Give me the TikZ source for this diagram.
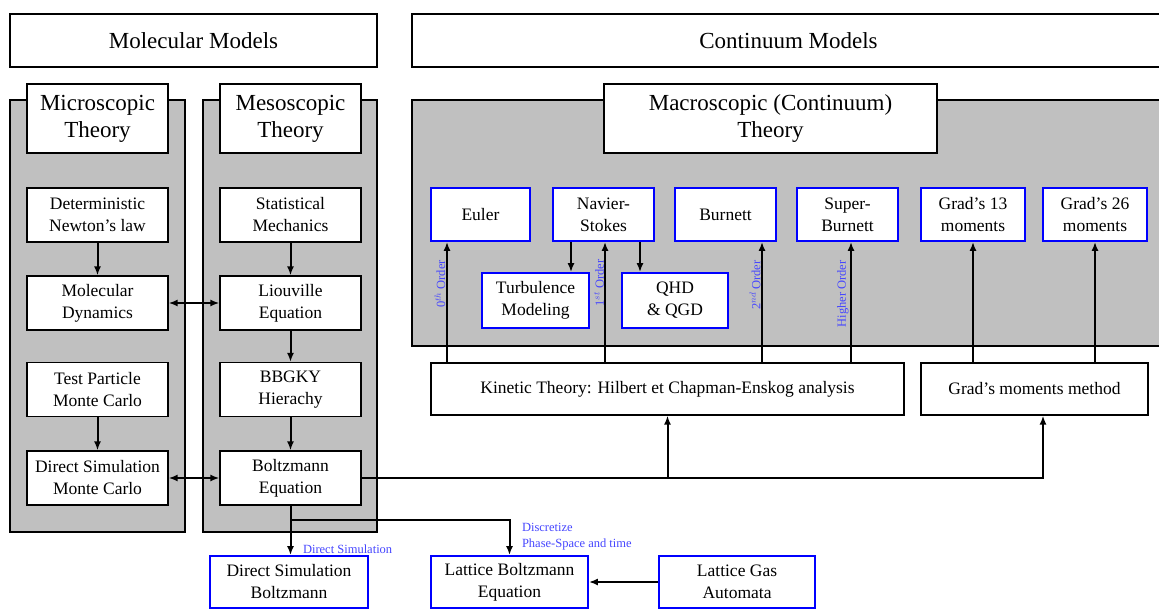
\documentclass[tikz,border=0pt]{standalone}
\usepackage{fontspec}
\setmainfont{Liberation Serif}
\usepackage{tikz}
\usetikzlibrary{arrows.meta}
\definecolor{panelgray}{RGB}{192,192,192}
\definecolor{labelblue}{RGB}{70,70,255}

\begin{document}
\begin{tikzpicture}[x=1pt, y=-1pt, >={Latex[length=9pt, width=7pt]}, line width=2pt]
      \useasboundingbox (0,0) rectangle (1159,608);

      % shaded panels
      \draw[fill=panelgray, line width=1.3pt] (10,100) rectangle (185,532);
      \draw[fill=panelgray, line width=1.3pt] (203,100) rectangle (377,532);
      \draw[fill=panelgray, line width=1.3pt] (412,100) rectangle (1165,346);

      {\tikzstyle{every node}=[draw, fill=white, line width=1.2pt, align=center,
          font=\fontsize{23}{27}\selectfont]
        \node[minimum width=367, minimum height=53] (molecular) at (193.5,40.5) {Molecular Models};
        \node[minimum width=753, minimum height=53] (continuum) at (788.5,40.5) {Continuum Models};
        \node[minimum width=141, minimum height=69] (micro) at (97.5,118.5) {Microscopic\\Theory};
        \node[minimum width=141, minimum height=69] (meso) at (290.5,118.5) {Mesoscopic\\Theory};
        \node[minimum width=333, minimum height=69] (macro) at (770.5,118.5) {Macroscopic (Continuum)\\Theory};
      }

      {\tikzstyle{every node}=[draw, fill=white, line width=1.2pt, align=center,
          minimum width=141, minimum height=54, inner sep=1pt,
          font=\fontsize{17.5}{22}\selectfont]
        \foreach \name/\y/\txt in {newton/215/{Deterministic\\Newton's law},
            md/303/{Molecular\\Dynamics},
            tpmc/389.5/{Test Particle\\Monte Carlo},
            dsmc/478/{Direct Simulation\\Monte Carlo}}
        {
          \node (\name) at (97.5,\y) {\txt};
        }
        \foreach \name/\y/\txt in {statmech/215/{Statistical\\Mechanics},
            liouville/303/{Liouville\\Equation},
            bbgky/389.5/{BBGKY\\Hierachy},
            boltz/478/{Boltzmann\\Equation}}
        {
          \node (\name) at (290.5,\y) {\txt};
        }
        \node[minimum width=473, minimum height=52] (kinetic) at (667.5,389)
          {Kinetic Theory: Hilbert et Chapman-Enskog analysis};
        \node[minimum width=227, minimum height=52] (gradmm) at (1034.5,389)
          {Grad's moments method};
      }

      {\tikzstyle{every node}=[draw=blue, fill=white, line width=1.8pt, align=center,
          minimum height=53, inner sep=1pt, font=\fontsize{17.5}{22}\selectfont]
        \foreach \name/\x/\w/\txt in {euler/480.5/99/{Euler},
            navier/603.5/101/{Navier-\\Stokes},
            burnett/725.5/101/{Burnett},
            superb/847.5/101/{Super-\\Burnett},
            grad13/973/104/{Grad's 13\\moments},
            grad26/1095/104/{Grad's 26\\moments}}
        {
          \node[minimum width=\w] (\name) at (\x,214.5) {\txt};
        }
        \node[minimum width=107, minimum height=55] (turb) at (535.5,300.5) {Turbulence\\Modeling};
        \node[minimum width=106, minimum height=55] (qhd) at (675,300.5) {QHD\\\& QGD};
        \node[minimum width=158, minimum height=52] (dsb) at (289,582) {Direct Simulation\\Boltzmann};
        \node[minimum width=157, minimum height=52] (lbe) at (509.5,582) {Lattice Boltzmann\\Equation};
        \node[minimum width=156, minimum height=52] (lga) at (737,582) {Lattice Gas\\Automata};
      }

      {\tikzstyle{every node}=[text=labelblue, inner sep=0pt, font=\fontsize{12.5}{16}\selectfont]
        \node[rotate=90] (ord0) at (440,284) {0$^{th}$ Order};
        \node[rotate=90] (ord1) at (599,283) {1$^{st}$ Order};
        \node[rotate=90] (ord2) at (755,285) {2$^{nd}$ Order};
        \node[rotate=90] (ordh) at (843,294) {Higher Order};
        \node[anchor=west] (dslabel) at (302,549.5) {Direct Simulation};
        \node[anchor=west, align=left] (disclabel) at (521,537) {Discretize\\Phase-Space and time};
      }

      \foreach \a/\b in {newton/md, tpmc/dsmc, statmech/liouville,
          liouville/bbgky, bbgky/boltz, lga/lbe}
      {
        \draw[->] (\a) -- (\b);
      }

      \draw[<->] (md) -- (liouville);
      \draw[<->] (dsmc) -- (boltz);

      \draw[->] (navier.south -| 571,0) -- (turb.north -| 571,0);
      \draw[->] (navier.south -| 640,0) -- (qhd.north -| 640,0);

      \foreach \x/\b in {447/euler, 605/navier, 762/burnett, 851/superb}
      {
        \draw[->] (kinetic.north -| \x,0) -- (\b.south -| \x,0);
      }
      \draw[->] (gradmm.north -| grad13) -- (grad13);
      \draw[->] (gradmm.north -| grad26) -- (grad26);

      \draw[->] (boltz.east) -| (gradmm.south -| 1043,0);
      \draw[->] (boltz.east -| kinetic) -- (kinetic);

      \draw[->] (boltz.south) -- (dsb.north -| boltz);
      \draw[->] (boltz.south |- 0,520) -| (lbe);
\end{tikzpicture}
\end{document}
